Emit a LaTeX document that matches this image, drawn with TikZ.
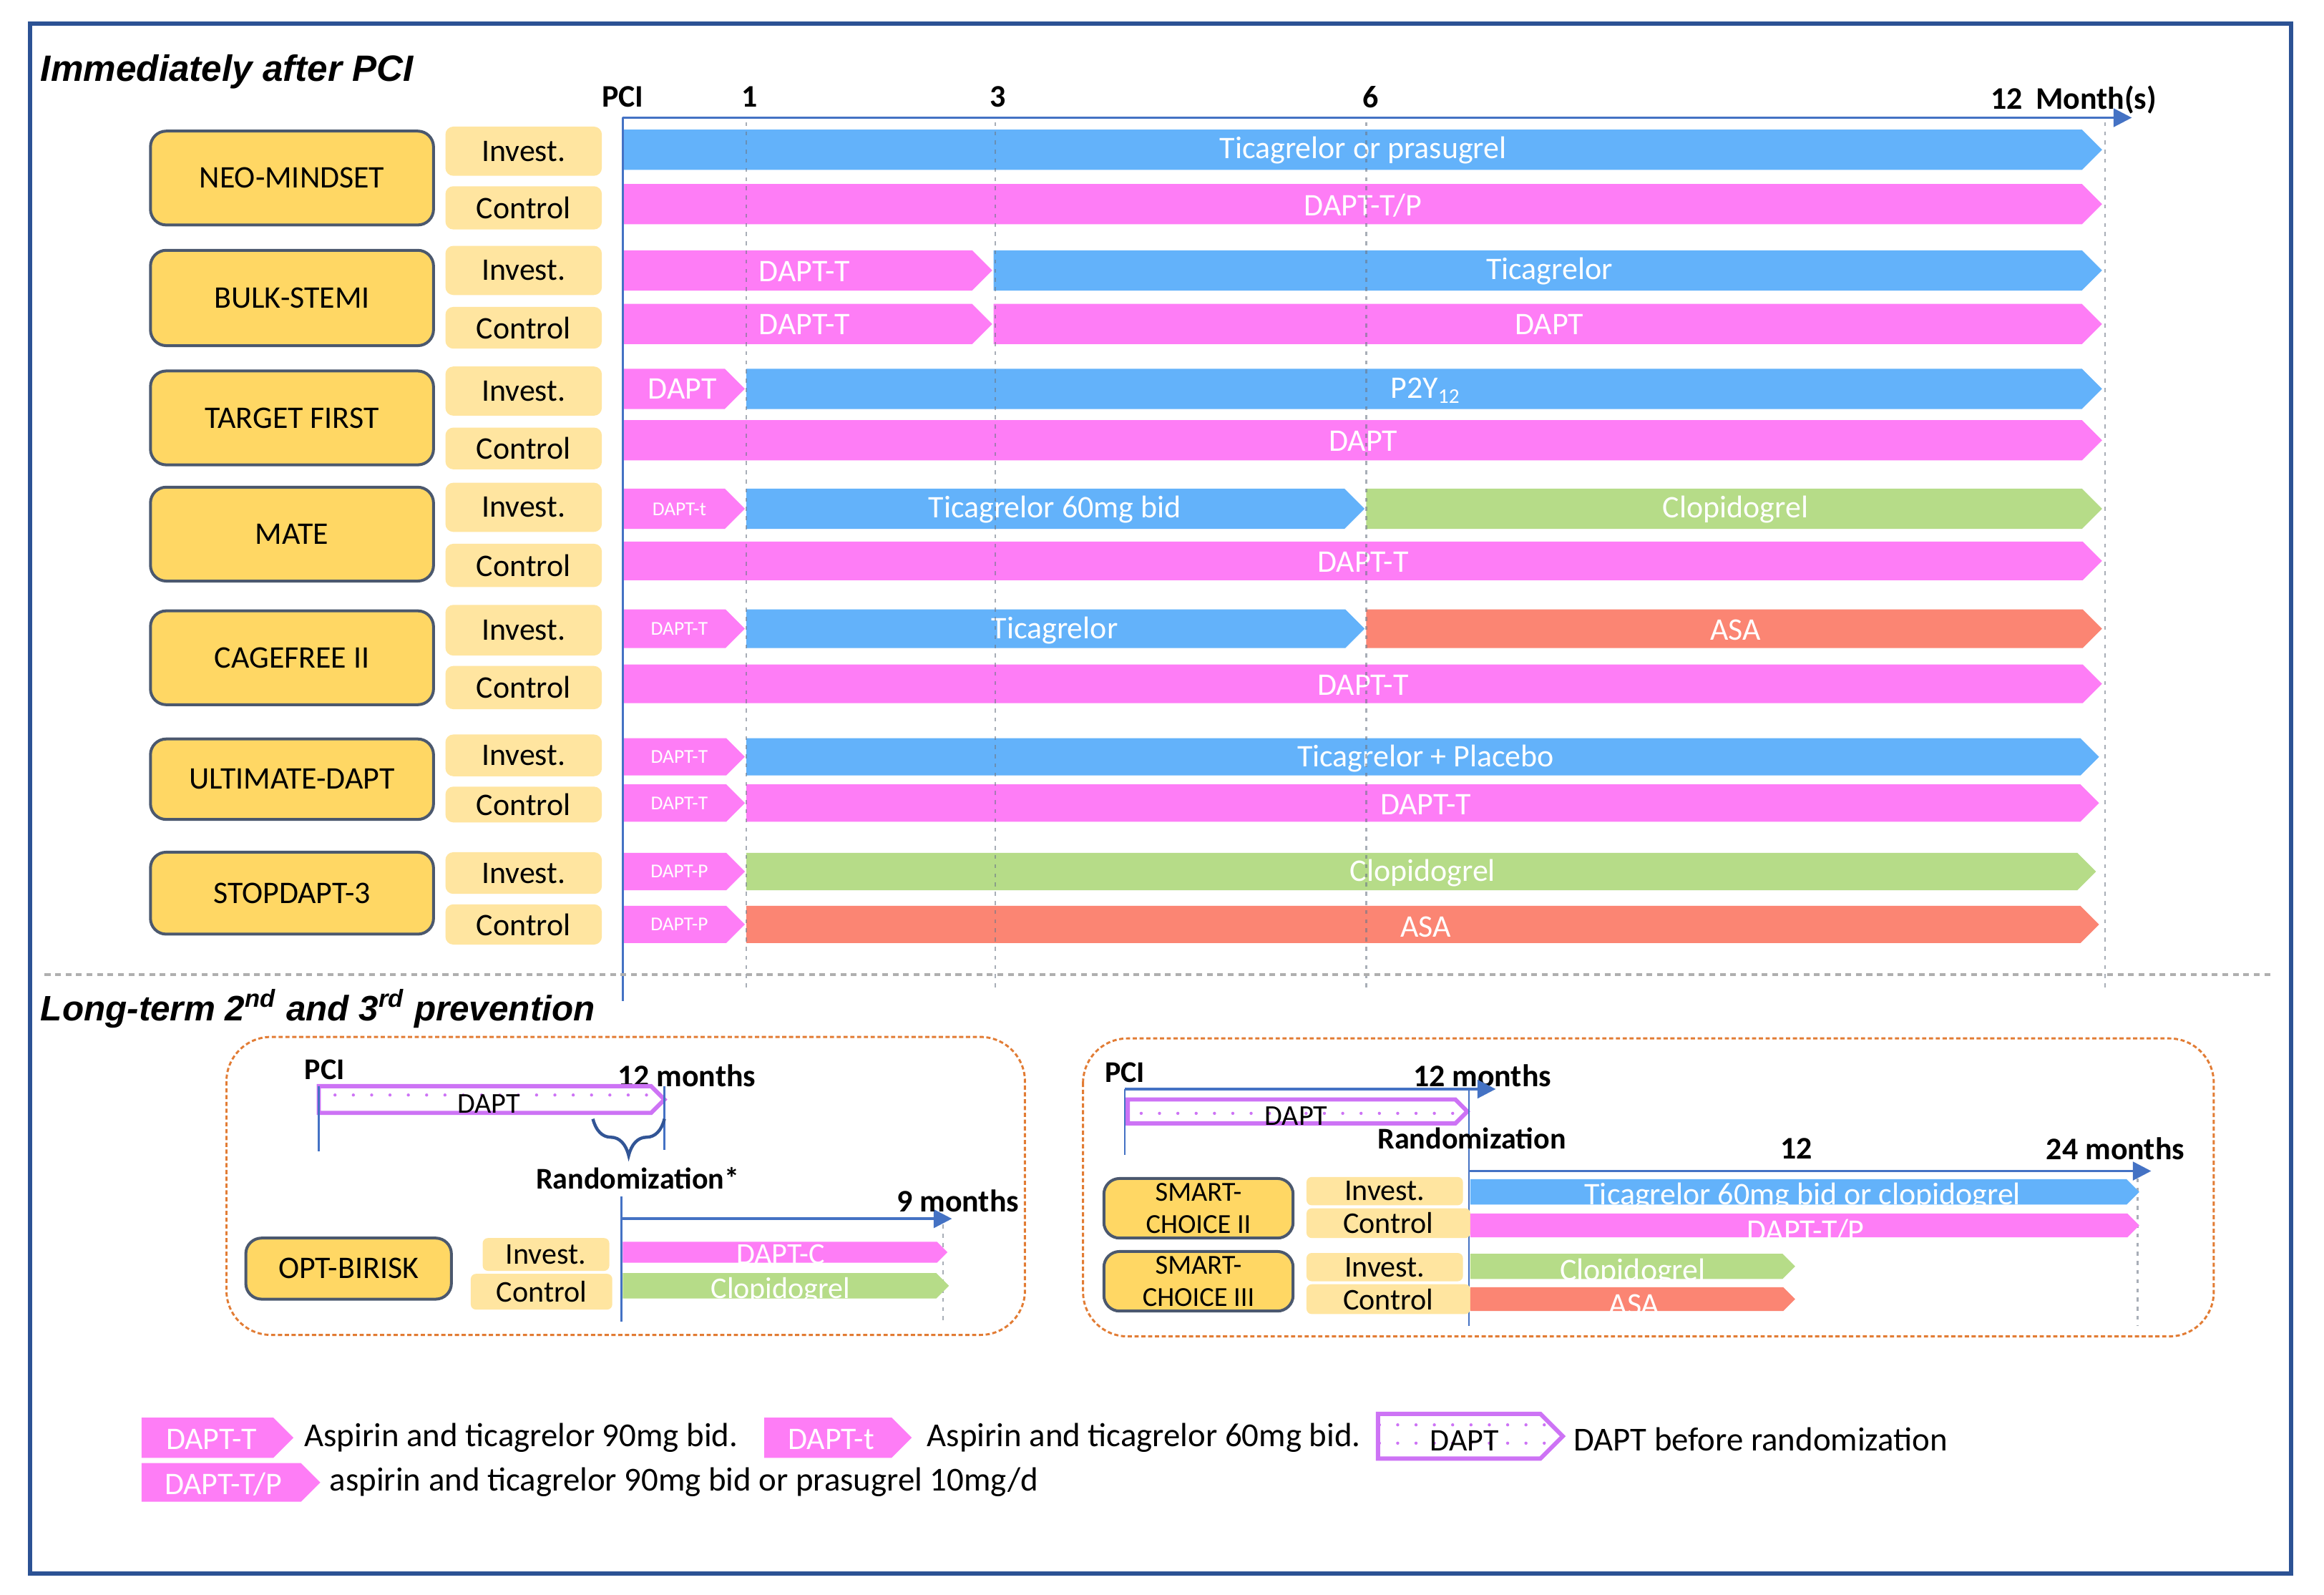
\documentclass[tikz,border=0pt]{standalone}
\usepackage{fontspec}
\setmainfont{Carlito}
\newfontfamily\titlefont{Liberation Sans}
\usetikzlibrary{arrows.meta,decorations.pathreplacing,patterns.meta}
\definecolor{cblue}{RGB}{99,178,250}
\definecolor{cpink}{RGB}{254,125,246}
\definecolor{cgreen}{RGB}{182,220,136}
\definecolor{csalmon}{RGB}{251,133,115}
\definecolor{ctrial}{RGB}{255,215,100}
\definecolor{ctrialb}{RGB}{75,88,110}
\definecolor{clabel}{RGB}{255,229,160}
\definecolor{caxis}{RGB}{68,114,196}
\definecolor{cframe}{RGB}{44,82,148}
\definecolor{corange}{RGB}{226,124,52}
\definecolor{cgrid}{RGB}{110,120,135}
\definecolor{csep}{RGB}{175,175,175}
\definecolor{cviolet}{RGB}{205,115,245}
\definecolor{cbrace}{RGB}{50,85,150}
\newcommand\fs[2]{\fontsize{#1}{#2}\selectfont}
\newcommand\tbar[5]{\path[#5] (#1,{#3-#4}) -- ({#2-#4},{#3-#4}) -- (#2,#3) -- ({#2-#4},{#3+#4}) -- (#1,{#3+#4}) -- cycle;}
\newcommand\bx[6]{\node[#1, minimum width={(#4-#3)*0.02cm}, minimum height={(#6-#5)*0.02cm}] (#2) at ({(#3+#4)/2},{(#5+#6)/2})}
\tikzset{
  trial/.style={draw=ctrialb, fill=ctrial, line width=1.1pt, rounded corners=6pt, inner sep=0pt, font=\fs{12}{13}, align=center},
  lab/.style={fill=clabel, rounded corners=3pt, inner sep=0pt, font=\fs{12}{14}},
  slab/.style={fill=clabel, rounded corners=2pt, inner sep=0pt, font=\fs{11.5}{13}},
  bt/.style={text=white, font=\fs{12}{14}, inner sep=0pt},
  bts/.style={text=white, font=\fs{7.5}{9}, inner sep=0pt},
  axl/.style={font=\bfseries\fs{12}{14}, inner sep=0pt},
  taxis/.style={draw=caxis, line width=1pt},
  tline/.style={draw=caxis, line width=0.7pt},
  mgrid/.style={draw=cgrid, line width=0.7pt, dash pattern=on 1.5pt off 2pt, opacity=0.6},
  dotbar/.style={fill=white, draw=cviolet, line width=1.6pt, postaction={pattern={Dots[radius=0.6pt,distance=7pt,xshift=2pt,yshift=2pt]}, pattern color=cviolet}},
  panel/.style={draw=corange, line width=0.8pt, dash pattern=on 1.6pt off 1pt, rounded corners=17pt},
  ttl/.style={font=\titlefont\bfseries\itshape\fs{14}{16}, inner sep=0pt, anchor=west},
  legt/.style={font=\fs{12.8}{14}, inner sep=0pt, anchor=west},
  tip/.style={-{Triangle[length=7pt,width=7pt]}}
}
\begin{document}
\begin{tikzpicture}[x=0.02cm,y=-0.02cm]
\useasboundingbox (0,0) rectangle (1560,1070.57);
\fill[white] (0,0) rectangle (1560,1070.57);
\draw[cframe, line width=1.7pt] (20,16) rectangle (1538,1056);

% ---------- top section ----------
\node[ttl] (t1) at (27,48) {Immediately after PCI};
\node[axl] (lpci) at (418,65) {PCI};
\node[axl] (l1) at (503,65) {1};
\node[axl] (l3) at (670,65) {3};
\node[axl] (l6) at (920,65) {6};
\node[axl, anchor=west] (l12) at (1336,67) {12\hspace{5pt}Month(s)};

% bars
\tbar{418}{1411}{100.5}{13.5}{fill=cblue}
\tbar{418}{1411}{137}{13.5}{fill=cpink}
\tbar{418}{666}{181.5}{13.5}{fill=cpink}
\tbar{667}{1411}{181.5}{13.5}{fill=cblue}
\tbar{418}{666}{217.5}{13.5}{fill=cpink}
\tbar{667}{1411}{217.5}{13.5}{fill=cpink}
\tbar{418}{500}{261}{13.5}{fill=cpink}
\tbar{501}{1411}{261}{13.5}{fill=cblue}
\tbar{418}{1411}{295.5}{13.5}{fill=cpink}
\tbar{418}{500}{341.5}{13.5}{fill=cpink}
\tbar{501}{916}{341.5}{13.5}{fill=cblue}
\tbar{917}{1411}{341.5}{13.5}{fill=cgreen}
\tbar{418}{1411}{376.5}{13}{fill=cpink}
\tbar{418}{500}{422}{13}{fill=cpink}
\tbar{501}{916}{422}{13}{fill=cblue}
\tbar{917}{1411}{422}{13}{fill=csalmon}
\tbar{418}{1411}{459}{13}{fill=cpink}
\tbar{418}{500}{508}{12.5}{fill=cpink}
\tbar{501}{1409}{508}{12.5}{fill=cblue}
\tbar{418}{500}{539}{12.5}{fill=cpink}
\tbar{501}{1409}{539}{12.5}{fill=cpink}
\tbar{418}{500}{585}{12.5}{fill=cpink}
\tbar{501}{1407}{585}{12.5}{fill=cgreen}
\tbar{418}{500}{620.5}{12.5}{fill=cpink}
\tbar{501}{1409}{620.5}{12.5}{fill=csalmon}

% bar texts
\node[bt] (b1) at (915,101) {Ticagrelor or prasugrel};
\node[bt] (b2) at (915,138) {DAPT-T/P};
\node[bt] (b3) at (540,182) {DAPT-T};
\node[bt] (b4) at (1040,182) {Ticagrelor};
\node[bt] (b5) at (540,218) {DAPT-T};
\node[bt] (b6) at (1040,218) {DAPT};
\node[bt] (b7) at (458,261) {DAPT};
\node[bt] (b8) at (957,262) {P2Y\textsubscript{12}};
\node[bt] (b9) at (915,296) {DAPT};
\node[bts] (b10) at (456,342) {DAPT-t};
\node[bt] (b11) at (708,342) {Ticagrelor 60mg bid};
\node[bt] (b12) at (1165,342) {Clopidogrel};
\node[bt] (b13) at (915,377) {DAPT-T};
\node[bts] (b14) at (456,422) {DAPT-T};
\node[bt] (b15) at (708,423) {Ticagrelor};
\node[bt] (b16) at (1165,423) {ASA};
\node[bt] (b17) at (915,460) {DAPT-T};
\node[bts] (b18) at (456,508) {DAPT-T};
\node[bt] (b19) at (957,509) {Ticagrelor + Placebo};
\node[bts] (b20) at (456,539) {DAPT-T};
\node[bt] (b21) at (957,540) {DAPT-T};
\node[bts] (b22) at (456,585) {DAPT-P};
\node[bt] (b23) at (955,586) {Clopidogrel};
\node[bts] (b24) at (456,620.5) {DAPT-P};
\node[bt] (b25) at (957,622) {ASA};

% axis and grid
\coordinate (a0) at (418,79);
\coordinate (a1) at (1431,79);
\coordinate (pcib) at (418,672);
\draw[taxis, tip] (a0) -- (a1);
\draw[tline] (a0) -- (pcib);
\foreach \x/\n in {501/g1,668/g3,917/g6,1413/g12}{
  \coordinate (\n t) at (\x,82);
  \coordinate (\n b) at (\x,665);
  \draw[mgrid] (\n t) -- (\n b);
}

% trial boxes
\bx{trial}{neo}{101}{291}{88}{151} {NEO-MINDSET};
\bx{lab}{neoi}{299}{404}{85}{118} {Invest.};
\bx{lab}{neoc}{299}{404}{125}{154} {Control};
\bx{trial}{bulk}{101}{291}{168}{232} {BULK-STEMI};
\bx{lab}{bulki}{299}{404}{165}{198} {Invest.};
\bx{lab}{bulkc}{299}{404}{206}{234} {Control};
\bx{trial}{tgt}{101}{291}{249}{312} {TARGET FIRST};
\bx{lab}{tgti}{299}{404}{246}{279} {Invest.};
\bx{lab}{tgtc}{299}{404}{287}{315} {Control};
\bx{trial}{mate}{101}{291}{327}{390} {MATE};
\bx{lab}{matei}{299}{404}{324}{357} {Invest.};
\bx{lab}{matec}{299}{404}{365}{394} {Control};
\bx{trial}{cage}{101}{291}{410}{473} {CAGEFREE II};
\bx{lab}{cagei}{299}{404}{406}{440} {Invest.};
\bx{lab}{cagec}{299}{404}{447}{476} {Control};
\bx{trial}{ult}{101}{291}{496}{550} {ULTIMATE-DAPT};
\bx{lab}{ulti}{299}{404}{493}{521} {Invest.};
\bx{lab}{ultc}{299}{404}{528}{552} {Control};
\bx{trial}{stop}{101}{291}{572}{627} {STOPDAPT-3};
\bx{lab}{stopi}{299}{404}{572}{600} {Invest.};
\bx{lab}{stopc}{299}{404}{607}{634} {Control};

% separator
\coordinate (s0) at (30,654);
\coordinate (s1) at (1525,654);
\draw[csep, line width=1.1pt, dash pattern=on 2.2pt off 1.8pt] (s0) -- (s1);

% ---------- long-term section ----------
\node[ttl, font=\titlefont\bfseries\itshape\fs{13.5}{16}] (t2) at (27,677) {Long-term 2\textsuperscript{nd} and 3\textsuperscript{rd} prevention};

% left panel
\draw[panel] (152,696) rectangle (688,896);
\node[axl, font=\bfseries\fs{11.5}{13}] (lpci2) at (218,718) {PCI};
\node[axl] (l12m) at (461,722) {12 months};
\tbar{214}{446}{738}{9}{dotbar}
\node[inner sep=0pt, font=\fs{11}{13}] (ld) at (328,741) {DAPT};
\coordinate (lp0) at (214,729); \coordinate (lp1) at (214,773);
\coordinate (lq0) at (446,729); \coordinate (lq1) at (446,772);
\draw[tline] (lp0) -- (lp1);
\draw[tline] (lq0) -- (lq1);
\coordinate (br0) at (446,751); \coordinate (br1) at (398,751);
\draw[cbrace, line width=1.2pt, decorate, decoration={brace, amplitude=14pt}] (br0) -- (br1);
\node[axl, font=\bfseries\fs{11.5}{13}] (lrand) at (428,791) {Randomization*};
\coordinate (lr0) at (417,803); \coordinate (lr1) at (417,887);
\coordinate (la0) at (417,818); \coordinate (la1) at (639,818);
\draw[tline] (lr0) -- (lr1);
\draw[taxis, tip] (la0) -- (la1);
\node[axl] (l9m) at (643,806) {9 months};
\coordinate (ld0) at (633,822); \coordinate (ld1) at (633,887);
\draw[mgrid] (ld0) -- (ld1);
\bx{trial}{opt}{165}{303}{831}{872} {OPT-BIRISK};
\bx{slab}{opti}{324}{409}{831}{853} {Invest.};
\bx{slab}{optc}{316}{411}{855}{879} {Control};
\tbar{418}{636}{840.5}{7}{fill=cpink}
\tbar{418}{637}{863}{8.5}{fill=cgreen}
\node[bt, font=\fs{11.5}{13}] (lb1) at (524,842) {DAPT-C};
\node[bt, font=\fs{11.5}{13}] (lb2) at (524,866) {Clopidogrel};

% right panel
\draw[panel] (727,697) rectangle (1486,897);
\node[axl, font=\bfseries\fs{11.5}{13}] (rpci) at (755,720) {PCI};
\node[axl] (r12m) at (995,722) {12 months};
\coordinate (ra0) at (755,731); \coordinate (ra1) at (1004,731);
\draw[taxis, tip] (ra0) -- (ra1);
\tbar{757}{985}{746}{8}{dotbar}
\node[inner sep=0pt, font=\fs{11}{13}] (rd) at (870,749) {DAPT};
\coordinate (rp1) at (755,775);
\draw[tline] (ra0) -- (rp1);
\coordinate (rr0) at (986,731); \coordinate (rr1) at (986,890);
\draw[tline] (rr0) -- (rr1);
\node[axl, font=\bfseries\fs{11.5}{13}] (rrand) at (988,764) {Randomization};
\node[axl] (r12) at (1206,771) {12};
\node[axl] (r24) at (1420,771) {24 months};
\coordinate (rb0) at (986,786); \coordinate (rb1) at (1444,786);
\draw[taxis, tip] (rb0) -- (rb1);
\coordinate (rg0) at (1435,791); \coordinate (rg1) at (1435,890);
\draw[mgrid] (rg0) -- (rg1);
\bx{trial, font=\fs{10.5}{12.5}}{sc2}{741}{868}{791}{831} {SMART-\\CHOICE II};
\bx{trial, font=\fs{10.5}{12.5}}{sc3}{741}{868}{840}{880} {SMART-\\CHOICE III};
\bx{slab}{sc2i}{877}{982}{790}{809} {Invest.};
\bx{slab}{sc2c}{877}{987}{811}{831} {Control};
\bx{slab}{sc3i}{877}{982}{841}{860} {Invest.};
\bx{slab}{sc3c}{877}{987}{862}{882} {Control};
\tbar{987}{1436}{800}{8.5}{fill=cblue}
\tbar{987}{1436}{822.5}{8}{fill=cpink}
\tbar{987}{1205}{850}{8.5}{fill=cgreen}
\tbar{987}{1205}{872}{8}{fill=csalmon}
\node[bt] (rb1t) at (1210,803) {Ticagrelor 60mg bid or clopidogrel};
\node[bt] (rb2t) at (1212,826) {DAPT-T/P};
\node[bt] (rb3t) at (1096,854) {Clopidogrel};
\node[bt] (rb4t) at (1097,876) {ASA};

% ---------- legend ----------
\tbar{95}{197}{965}{13.5}{fill=cpink}
\node[bt, font=\fs{12}{14}] (g1) at (142,966) {DAPT-T};
\node[legt] (g1t) at (204,965) {Aspirin and ticagrelor 90mg bid.};
\tbar{513}{612}{965}{13.5}{fill=cpink}
\node[bt, font=\fs{12}{14}] (g2) at (558,966) {DAPT-t};
\node[legt] (g2t) at (622,965) {Aspirin and ticagrelor 60mg bid.};
\tbar{925}{1049}{964}{15}{dotbar}
\node[inner sep=0pt, font=\fs{12}{14}] (g3) at (983,967) {DAPT};
\node[legt] (g3t) at (1056,966) {DAPT before randomization};
\tbar{95}{215}{995}{13}{fill=cpink}
\node[bt, font=\fs{12}{14}] (g4) at (150,996) {DAPT-T/P};
\node[legt] (g4t) at (221,995) {aspirin and ticagrelor 90mg bid or prasugrel 10mg/d};
\end{tikzpicture}
\end{document}
